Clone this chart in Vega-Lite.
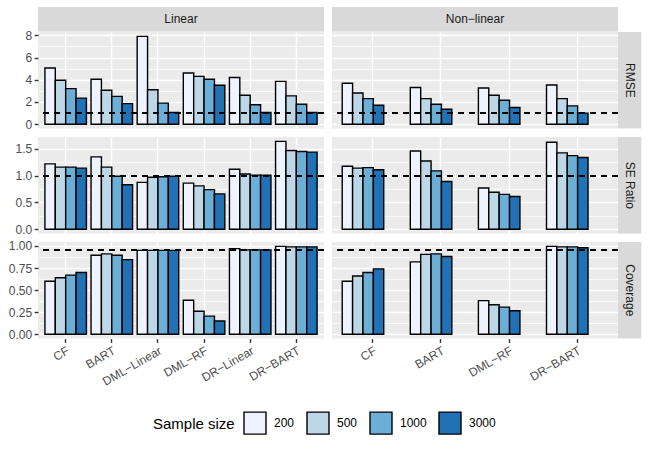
{
"$schema": "https://vega.github.io/schema/vega-lite/v6.json",
"padding": {"left": 8, "top": 7, "right": 5, "bottom": 5},
"datasets": {
"d": [
{"setting":"Linear","metric":"RMSE","method":"CF","n":"200","value":5.05},
{"setting":"Linear","metric":"RMSE","method":"CF","n":"500","value":3.95},
{"setting":"Linear","metric":"RMSE","method":"CF","n":"1000","value":3.2},
{"setting":"Linear","metric":"RMSE","method":"CF","n":"3000","value":2.35},
{"setting":"Linear","metric":"RMSE","method":"BART","n":"200","value":4.05},
{"setting":"Linear","metric":"RMSE","method":"BART","n":"500","value":3.05},
{"setting":"Linear","metric":"RMSE","method":"BART","n":"1000","value":2.5},
{"setting":"Linear","metric":"RMSE","method":"BART","n":"3000","value":1.85},
{"setting":"Linear","metric":"RMSE","method":"DML−Linear","n":"200","value":7.9},
{"setting":"Linear","metric":"RMSE","method":"DML−Linear","n":"500","value":3.1},
{"setting":"Linear","metric":"RMSE","method":"DML−Linear","n":"1000","value":1.9},
{"setting":"Linear","metric":"RMSE","method":"DML−Linear","n":"3000","value":1.05},
{"setting":"Linear","metric":"RMSE","method":"DML−RF","n":"200","value":4.6},
{"setting":"Linear","metric":"RMSE","method":"DML−RF","n":"500","value":4.3},
{"setting":"Linear","metric":"RMSE","method":"DML−RF","n":"1000","value":4.05},
{"setting":"Linear","metric":"RMSE","method":"DML−RF","n":"3000","value":3.5},
{"setting":"Linear","metric":"RMSE","method":"DR−Linear","n":"200","value":4.2},
{"setting":"Linear","metric":"RMSE","method":"DR−Linear","n":"500","value":2.6},
{"setting":"Linear","metric":"RMSE","method":"DR−Linear","n":"1000","value":1.75},
{"setting":"Linear","metric":"RMSE","method":"DR−Linear","n":"3000","value":1.05},
{"setting":"Linear","metric":"RMSE","method":"DR−BART","n":"200","value":3.85},
{"setting":"Linear","metric":"RMSE","method":"DR−BART","n":"500","value":2.55},
{"setting":"Linear","metric":"RMSE","method":"DR−BART","n":"1000","value":1.8},
{"setting":"Linear","metric":"RMSE","method":"DR−BART","n":"3000","value":1.05},
{"setting":"Linear","metric":"SE Ratio","method":"CF","n":"200","value":1.22},
{"setting":"Linear","metric":"SE Ratio","method":"CF","n":"500","value":1.16},
{"setting":"Linear","metric":"SE Ratio","method":"CF","n":"1000","value":1.16},
{"setting":"Linear","metric":"SE Ratio","method":"CF","n":"3000","value":1.14},
{"setting":"Linear","metric":"SE Ratio","method":"BART","n":"200","value":1.35},
{"setting":"Linear","metric":"SE Ratio","method":"BART","n":"500","value":1.16},
{"setting":"Linear","metric":"SE Ratio","method":"BART","n":"1000","value":0.99},
{"setting":"Linear","metric":"SE Ratio","method":"BART","n":"3000","value":0.83},
{"setting":"Linear","metric":"SE Ratio","method":"DML−Linear","n":"200","value":0.875},
{"setting":"Linear","metric":"SE Ratio","method":"DML−Linear","n":"500","value":0.97},
{"setting":"Linear","metric":"SE Ratio","method":"DML−Linear","n":"1000","value":0.98},
{"setting":"Linear","metric":"SE Ratio","method":"DML−Linear","n":"3000","value":0.99},
{"setting":"Linear","metric":"SE Ratio","method":"DML−RF","n":"200","value":0.86},
{"setting":"Linear","metric":"SE Ratio","method":"DML−RF","n":"500","value":0.81},
{"setting":"Linear","metric":"SE Ratio","method":"DML−RF","n":"1000","value":0.74},
{"setting":"Linear","metric":"SE Ratio","method":"DML−RF","n":"3000","value":0.66},
{"setting":"Linear","metric":"SE Ratio","method":"DR−Linear","n":"200","value":1.12},
{"setting":"Linear","metric":"SE Ratio","method":"DR−Linear","n":"500","value":1.03},
{"setting":"Linear","metric":"SE Ratio","method":"DR−Linear","n":"1000","value":1.01},
{"setting":"Linear","metric":"SE Ratio","method":"DR−Linear","n":"3000","value":1.01},
{"setting":"Linear","metric":"SE Ratio","method":"DR−BART","n":"200","value":1.64},
{"setting":"Linear","metric":"SE Ratio","method":"DR−BART","n":"500","value":1.47},
{"setting":"Linear","metric":"SE Ratio","method":"DR−BART","n":"1000","value":1.45},
{"setting":"Linear","metric":"SE Ratio","method":"DR−BART","n":"3000","value":1.44},
{"setting":"Linear","metric":"Coverage","method":"CF","n":"200","value":0.6},
{"setting":"Linear","metric":"Coverage","method":"CF","n":"500","value":0.64},
{"setting":"Linear","metric":"Coverage","method":"CF","n":"1000","value":0.67},
{"setting":"Linear","metric":"Coverage","method":"CF","n":"3000","value":0.7},
{"setting":"Linear","metric":"Coverage","method":"BART","n":"200","value":0.895},
{"setting":"Linear","metric":"Coverage","method":"BART","n":"500","value":0.91},
{"setting":"Linear","metric":"Coverage","method":"BART","n":"1000","value":0.895},
{"setting":"Linear","metric":"Coverage","method":"BART","n":"3000","value":0.845},
{"setting":"Linear","metric":"Coverage","method":"DML−Linear","n":"200","value":0.95},
{"setting":"Linear","metric":"Coverage","method":"DML−Linear","n":"500","value":0.95},
{"setting":"Linear","metric":"Coverage","method":"DML−Linear","n":"1000","value":0.95},
{"setting":"Linear","metric":"Coverage","method":"DML−Linear","n":"3000","value":0.95},
{"setting":"Linear","metric":"Coverage","method":"DML−RF","n":"200","value":0.385},
{"setting":"Linear","metric":"Coverage","method":"DML−RF","n":"500","value":0.26},
{"setting":"Linear","metric":"Coverage","method":"DML−RF","n":"1000","value":0.205},
{"setting":"Linear","metric":"Coverage","method":"DML−RF","n":"3000","value":0.15},
{"setting":"Linear","metric":"Coverage","method":"DR−Linear","n":"200","value":0.97},
{"setting":"Linear","metric":"Coverage","method":"DR−Linear","n":"500","value":0.955},
{"setting":"Linear","metric":"Coverage","method":"DR−Linear","n":"1000","value":0.955},
{"setting":"Linear","metric":"Coverage","method":"DR−Linear","n":"3000","value":0.955},
{"setting":"Linear","metric":"Coverage","method":"DR−BART","n":"200","value":0.995},
{"setting":"Linear","metric":"Coverage","method":"DR−BART","n":"500","value":0.99},
{"setting":"Linear","metric":"Coverage","method":"DR−BART","n":"1000","value":0.99},
{"setting":"Linear","metric":"Coverage","method":"DR−BART","n":"3000","value":0.99},
{"setting":"Non−linear","metric":"RMSE","method":"CF","n":"200","value":3.68},
{"setting":"Non−linear","metric":"RMSE","method":"CF","n":"500","value":2.81},
{"setting":"Non−linear","metric":"RMSE","method":"CF","n":"1000","value":2.3},
{"setting":"Non−linear","metric":"RMSE","method":"CF","n":"3000","value":1.7},
{"setting":"Non−linear","metric":"RMSE","method":"BART","n":"200","value":3.3},
{"setting":"Non−linear","metric":"RMSE","method":"BART","n":"500","value":2.3},
{"setting":"Non−linear","metric":"RMSE","method":"BART","n":"1000","value":1.8},
{"setting":"Non−linear","metric":"RMSE","method":"BART","n":"3000","value":1.35},
{"setting":"Non−linear","metric":"RMSE","method":"DML−RF","n":"200","value":3.26},
{"setting":"Non−linear","metric":"RMSE","method":"DML−RF","n":"500","value":2.6},
{"setting":"Non−linear","metric":"RMSE","method":"DML−RF","n":"1000","value":2.15},
{"setting":"Non−linear","metric":"RMSE","method":"DML−RF","n":"3000","value":1.5},
{"setting":"Non−linear","metric":"RMSE","method":"DR−BART","n":"200","value":3.53},
{"setting":"Non−linear","metric":"RMSE","method":"DR−BART","n":"500","value":2.3},
{"setting":"Non−linear","metric":"RMSE","method":"DR−BART","n":"1000","value":1.65},
{"setting":"Non−linear","metric":"RMSE","method":"DR−BART","n":"3000","value":1.0},
{"setting":"Non−linear","metric":"SE Ratio","method":"CF","n":"200","value":1.175},
{"setting":"Non−linear","metric":"SE Ratio","method":"CF","n":"500","value":1.14},
{"setting":"Non−linear","metric":"SE Ratio","method":"CF","n":"1000","value":1.15},
{"setting":"Non−linear","metric":"SE Ratio","method":"CF","n":"3000","value":1.11},
{"setting":"Non−linear","metric":"SE Ratio","method":"BART","n":"200","value":1.46},
{"setting":"Non−linear","metric":"SE Ratio","method":"BART","n":"500","value":1.275},
{"setting":"Non−linear","metric":"SE Ratio","method":"BART","n":"1000","value":1.09},
{"setting":"Non−linear","metric":"SE Ratio","method":"BART","n":"3000","value":0.89},
{"setting":"Non−linear","metric":"SE Ratio","method":"DML−RF","n":"200","value":0.77},
{"setting":"Non−linear","metric":"SE Ratio","method":"DML−RF","n":"500","value":0.69},
{"setting":"Non−linear","metric":"SE Ratio","method":"DML−RF","n":"1000","value":0.65},
{"setting":"Non−linear","metric":"SE Ratio","method":"DML−RF","n":"3000","value":0.61},
{"setting":"Non−linear","metric":"SE Ratio","method":"DR−BART","n":"200","value":1.625},
{"setting":"Non−linear","metric":"SE Ratio","method":"DR−BART","n":"500","value":1.425},
{"setting":"Non−linear","metric":"SE Ratio","method":"DR−BART","n":"1000","value":1.375},
{"setting":"Non−linear","metric":"SE Ratio","method":"DR−BART","n":"3000","value":1.34},
{"setting":"Non−linear","metric":"Coverage","method":"CF","n":"200","value":0.6},
{"setting":"Non−linear","metric":"Coverage","method":"CF","n":"500","value":0.66},
{"setting":"Non−linear","metric":"Coverage","method":"CF","n":"1000","value":0.7},
{"setting":"Non−linear","metric":"Coverage","method":"CF","n":"3000","value":0.74},
{"setting":"Non−linear","metric":"Coverage","method":"BART","n":"200","value":0.82},
{"setting":"Non−linear","metric":"Coverage","method":"BART","n":"500","value":0.905},
{"setting":"Non−linear","metric":"Coverage","method":"BART","n":"1000","value":0.91},
{"setting":"Non−linear","metric":"Coverage","method":"BART","n":"3000","value":0.88},
{"setting":"Non−linear","metric":"Coverage","method":"DML−RF","n":"200","value":0.38},
{"setting":"Non−linear","metric":"Coverage","method":"DML−RF","n":"500","value":0.333},
{"setting":"Non−linear","metric":"Coverage","method":"DML−RF","n":"1000","value":0.307},
{"setting":"Non−linear","metric":"Coverage","method":"DML−RF","n":"3000","value":0.265},
{"setting":"Non−linear","metric":"Coverage","method":"DR−BART","n":"200","value":0.995},
{"setting":"Non−linear","metric":"Coverage","method":"DR−BART","n":"500","value":0.99},
{"setting":"Non−linear","metric":"Coverage","method":"DR−BART","n":"1000","value":0.99},
{"setting":"Non−linear","metric":"Coverage","method":"DR−BART","n":"3000","value":0.98}
]
},
"bounds": "flush",
"spacing": 0,
"columns": 4,
"concat": [
  {"width": 286, "height": 24.4, "view": {"fill": "#D9D9D9", "stroke": null}, "data": {"values": [{"label": "Linear"}]}, "mark": {"type": "text", "fontSize": 12, "color": "#1A1A1A"}, "encoding": {"text": {"field": "label"}}},
  {"width": 7.5, "height": 24.4, "view": {"fill": null, "stroke": null}, "data": {"values": [{}]}, "mark": "text", "encoding": {"text": {"value": ""}}},
  {"width": 286, "height": 24.4, "view": {"fill": "#D9D9D9", "stroke": null}, "data": {"values": [{"label": "Non−linear"}]}, "mark": {"type": "text", "fontSize": 12, "color": "#1A1A1A"}, "encoding": {"text": {"field": "label"}}},
  {"width": 23.3, "height": 24.4, "view": {"fill": null, "stroke": null}, "data": {"values": [{}]}, "mark": "text", "encoding": {"text": {"value": ""}}},

  {"width": 286, "height": 96.6, "data": {"name": "d"},
   "transform": [{"filter": "datum.setting == 'Linear' && datum.metric == 'RMSE'"}],
   "resolve": {"axis": {"y": "independent"}},
   "layer": [
    {"mark": {"type": "bar", "stroke": "black", "strokeWidth": 1.4},
     "encoding": {
      "x": {"field": "method", "type": "nominal", "sort": ["CF","BART","DML−Linear","DML−RF","DR−Linear","DR−BART"], "scale": {"paddingInner": 0.1, "paddingOuter": 0.15}, "axis": {"labels": false, "ticks": false, "grid": true, "bandPosition": 0.5, "title": null}},
      "xOffset": {"field": "n", "type": "nominal", "sort": ["200","500","1000","3000"], "scale": {"paddingInner": 0, "paddingOuter": 0}},
      "y": {"field": "value", "type": "quantitative", "scale": {"domain": [-0.395, 8.295], "nice": false, "zero": false}, "axis": {"values": [0,2,4,6,8], "grid": true, "orient": "left", "title": null}},
      "y2": {"datum": 0},
      "color": {"field": "n", "type": "nominal", "sort": ["200","500","1000","3000"], "scale": {"domain": ["200","500","1000","3000"], "range": ["#EFF3FF","#BDD7E7","#6BAED6","#2171B5"]}, "title": "Sample size"}
     }},
    {"mark": {"type": "rule", "color": "black", "strokeWidth": 1.4, "strokeDash": [5.5, 5.5]},
     "encoding": {"y": {"datum": 1, "type": "quantitative", "scale": {"domain": [-0.395, 8.295], "nice": false, "zero": false}, "axis": {"values": [1,3,5,7], "grid": true, "gridWidth": 0.7, "labels": false, "ticks": false, "orient": "left", "minExtent": 0, "maxExtent": 0, "title": null}}}}
   ]},
  {"width": 7.5, "height": 96.6, "view": {"fill": null, "stroke": null}, "data": {"values": [{}]}, "mark": "text", "encoding": {"text": {"value": ""}}},
  {"width": 286, "height": 96.6, "data": {"name": "d"},
   "transform": [{"filter": "datum.setting == 'Non−linear' && datum.metric == 'RMSE'"}],
   "resolve": {"axis": {"y": "independent"}},
   "layer": [
    {"mark": {"type": "bar", "stroke": "black", "strokeWidth": 1.4},
     "encoding": {
      "x": {"field": "method", "type": "nominal", "sort": ["CF","BART","DML−RF","DR−BART"], "scale": {"paddingInner": 0.1, "paddingOuter": 0.15}, "axis": {"labels": false, "ticks": false, "grid": true, "bandPosition": 0.5, "title": null}},
      "xOffset": {"field": "n", "type": "nominal", "sort": ["200","500","1000","3000"], "scale": {"paddingInner": 0, "paddingOuter": 0}},
      "y": {"field": "value", "type": "quantitative", "scale": {"domain": [-0.395, 8.295], "nice": false, "zero": false}, "axis": {"values": [0,2,4,6,8], "grid": true, "labels": false, "ticks": false, "orient": "left", "minExtent": 0, "maxExtent": 0, "title": null}},
      "y2": {"datum": 0},
      "color": {"field": "n", "type": "nominal", "sort": ["200","500","1000","3000"], "scale": {"domain": ["200","500","1000","3000"], "range": ["#EFF3FF","#BDD7E7","#6BAED6","#2171B5"]}, "title": "Sample size"}
     }},
    {"mark": {"type": "rule", "color": "black", "strokeWidth": 1.4, "strokeDash": [5.5, 5.5]},
     "encoding": {"y": {"datum": 1, "type": "quantitative", "scale": {"domain": [-0.395, 8.295], "nice": false, "zero": false}, "axis": {"values": [1,3,5,7], "grid": true, "gridWidth": 0.7, "labels": false, "ticks": false, "orient": "left", "minExtent": 0, "maxExtent": 0, "title": null}}}}
   ]},
  {"width": 23.3, "height": 96.6, "view": {"fill": "#D9D9D9", "stroke": null}, "data": {"values": [{"label": "RMSE"}]}, "mark": {"type": "text", "fontSize": 12, "color": "#1A1A1A", "angle": 90}, "encoding": {"text": {"field": "label"}}},

  {"width": 286, "height": 7.3, "view": {"fill": null, "stroke": null}, "data": {"values": [{}]}, "mark": "text", "encoding": {"text": {"value": ""}}},
  {"width": 7.5, "height": 7.3, "view": {"fill": null, "stroke": null}, "data": {"values": [{}]}, "mark": "text", "encoding": {"text": {"value": ""}}},
  {"width": 286, "height": 7.3, "view": {"fill": null, "stroke": null}, "data": {"values": [{}]}, "mark": "text", "encoding": {"text": {"value": ""}}},
  {"width": 23.3, "height": 7.3, "view": {"fill": null, "stroke": null}, "data": {"values": [{}]}, "mark": "text", "encoding": {"text": {"value": ""}}},

  {"width": 286, "height": 96.6, "data": {"name": "d"},
   "transform": [{"filter": "datum.setting == 'Linear' && datum.metric == 'SE Ratio'"}],
   "resolve": {"axis": {"y": "independent"}},
   "layer": [
    {"mark": {"type": "bar", "stroke": "black", "strokeWidth": 1.4},
     "encoding": {
      "x": {"field": "method", "type": "nominal", "sort": ["CF","BART","DML−Linear","DML−RF","DR−Linear","DR−BART"], "scale": {"paddingInner": 0.1, "paddingOuter": 0.15}, "axis": {"labels": false, "ticks": false, "grid": true, "bandPosition": 0.5, "title": null}},
      "xOffset": {"field": "n", "type": "nominal", "sort": ["200","500","1000","3000"], "scale": {"paddingInner": 0, "paddingOuter": 0}},
      "y": {"field": "value", "type": "quantitative", "scale": {"domain": [-0.082, 1.722], "nice": false, "zero": false}, "axis": {"values": [0,0.5,1,1.5], "format": ".1f", "grid": true, "orient": "left", "title": null}},
      "y2": {"datum": 0},
      "color": {"field": "n", "type": "nominal", "sort": ["200","500","1000","3000"], "scale": {"domain": ["200","500","1000","3000"], "range": ["#EFF3FF","#BDD7E7","#6BAED6","#2171B5"]}, "title": "Sample size"}
     }},
    {"mark": {"type": "rule", "color": "black", "strokeWidth": 1.4, "strokeDash": [5.5, 5.5]},
     "encoding": {"y": {"datum": 1, "type": "quantitative", "scale": {"domain": [-0.082, 1.722], "nice": false, "zero": false}, "axis": {"values": [0.25,0.75,1.25], "grid": true, "gridWidth": 0.7, "labels": false, "ticks": false, "orient": "left", "minExtent": 0, "maxExtent": 0, "title": null}}}}
   ]},
  {"width": 7.5, "height": 96.6, "view": {"fill": null, "stroke": null}, "data": {"values": [{}]}, "mark": "text", "encoding": {"text": {"value": ""}}},
  {"width": 286, "height": 96.6, "data": {"name": "d"},
   "transform": [{"filter": "datum.setting == 'Non−linear' && datum.metric == 'SE Ratio'"}],
   "resolve": {"axis": {"y": "independent"}},
   "layer": [
    {"mark": {"type": "bar", "stroke": "black", "strokeWidth": 1.4},
     "encoding": {
      "x": {"field": "method", "type": "nominal", "sort": ["CF","BART","DML−RF","DR−BART"], "scale": {"paddingInner": 0.1, "paddingOuter": 0.15}, "axis": {"labels": false, "ticks": false, "grid": true, "bandPosition": 0.5, "title": null}},
      "xOffset": {"field": "n", "type": "nominal", "sort": ["200","500","1000","3000"], "scale": {"paddingInner": 0, "paddingOuter": 0}},
      "y": {"field": "value", "type": "quantitative", "scale": {"domain": [-0.082, 1.722], "nice": false, "zero": false}, "axis": {"values": [0,0.5,1,1.5], "grid": true, "labels": false, "ticks": false, "orient": "left", "minExtent": 0, "maxExtent": 0, "title": null}},
      "y2": {"datum": 0},
      "color": {"field": "n", "type": "nominal", "sort": ["200","500","1000","3000"], "scale": {"domain": ["200","500","1000","3000"], "range": ["#EFF3FF","#BDD7E7","#6BAED6","#2171B5"]}, "title": "Sample size"}
     }},
    {"mark": {"type": "rule", "color": "black", "strokeWidth": 1.4, "strokeDash": [5.5, 5.5]},
     "encoding": {"y": {"datum": 1, "type": "quantitative", "scale": {"domain": [-0.082, 1.722], "nice": false, "zero": false}, "axis": {"values": [0.25,0.75,1.25], "grid": true, "gridWidth": 0.7, "labels": false, "ticks": false, "orient": "left", "minExtent": 0, "maxExtent": 0, "title": null}}}}
   ]},
  {"width": 23.3, "height": 96.6, "view": {"fill": "#D9D9D9", "stroke": null}, "data": {"values": [{"label": "SE Ratio"}]}, "mark": {"type": "text", "fontSize": 12, "color": "#1A1A1A", "angle": 90}, "encoding": {"text": {"field": "label"}}},

  {"width": 286, "height": 7.3, "view": {"fill": null, "stroke": null}, "data": {"values": [{}]}, "mark": "text", "encoding": {"text": {"value": ""}}},
  {"width": 7.5, "height": 7.3, "view": {"fill": null, "stroke": null}, "data": {"values": [{}]}, "mark": "text", "encoding": {"text": {"value": ""}}},
  {"width": 286, "height": 7.3, "view": {"fill": null, "stroke": null}, "data": {"values": [{}]}, "mark": "text", "encoding": {"text": {"value": ""}}},
  {"width": 23.3, "height": 7.3, "view": {"fill": null, "stroke": null}, "data": {"values": [{}]}, "mark": "text", "encoding": {"text": {"value": ""}}},

  {"width": 286, "height": 96.6, "data": {"name": "d"},
   "transform": [{"filter": "datum.setting == 'Linear' && datum.metric == 'Coverage'"}],
   "resolve": {"axis": {"y": "independent"}},
   "layer": [
    {"mark": {"type": "bar", "stroke": "black", "strokeWidth": 1.4},
     "encoding": {
      "x": {"field": "method", "type": "nominal", "sort": ["CF","BART","DML−Linear","DML−RF","DR−Linear","DR−BART"], "scale": {"paddingInner": 0.1, "paddingOuter": 0.15}, "axis": {"labels": true, "ticks": true, "grid": true, "bandPosition": 0.5, "labelAngle": -30, "labelAlign": "right", "labelBaseline": "top", "labelOverlap": false, "title": null}},
      "xOffset": {"field": "n", "type": "nominal", "sort": ["200","500","1000","3000"], "scale": {"paddingInner": 0, "paddingOuter": 0}},
      "y": {"field": "value", "type": "quantitative", "scale": {"domain": [-0.04975, 1.04475], "nice": false, "zero": false}, "axis": {"values": [0,0.25,0.5,0.75,1], "format": ".2f", "grid": true, "orient": "left", "title": null}},
      "y2": {"datum": 0},
      "color": {"field": "n", "type": "nominal", "sort": ["200","500","1000","3000"], "scale": {"domain": ["200","500","1000","3000"], "range": ["#EFF3FF","#BDD7E7","#6BAED6","#2171B5"]}, "title": "Sample size"}
     }},
    {"mark": {"type": "rule", "color": "black", "strokeWidth": 1.4, "strokeDash": [5.5, 5.5]},
     "encoding": {"y": {"datum": 0.95, "type": "quantitative", "scale": {"domain": [-0.04975, 1.04475], "nice": false, "zero": false}, "axis": {"values": [0.125,0.375,0.625,0.875], "grid": true, "gridWidth": 0.7, "labels": false, "ticks": false, "orient": "left", "minExtent": 0, "maxExtent": 0, "title": null}}}}
   ]},
  {"width": 7.5, "height": 96.6, "view": {"fill": null, "stroke": null}, "data": {"values": [{}]}, "mark": "text", "encoding": {"text": {"value": ""}}},
  {"width": 286, "height": 96.6, "data": {"name": "d"},
   "transform": [{"filter": "datum.setting == 'Non−linear' && datum.metric == 'Coverage'"}],
   "resolve": {"axis": {"y": "independent"}},
   "layer": [
    {"mark": {"type": "bar", "stroke": "black", "strokeWidth": 1.4},
     "encoding": {
      "x": {"field": "method", "type": "nominal", "sort": ["CF","BART","DML−RF","DR−BART"], "scale": {"paddingInner": 0.1, "paddingOuter": 0.15}, "axis": {"labels": true, "ticks": true, "grid": true, "bandPosition": 0.5, "labelAngle": -30, "labelAlign": "right", "labelBaseline": "top", "labelOverlap": false, "title": null}},
      "xOffset": {"field": "n", "type": "nominal", "sort": ["200","500","1000","3000"], "scale": {"paddingInner": 0, "paddingOuter": 0}},
      "y": {"field": "value", "type": "quantitative", "scale": {"domain": [-0.04975, 1.04475], "nice": false, "zero": false}, "axis": {"values": [0,0.25,0.5,0.75,1], "grid": true, "labels": false, "ticks": false, "orient": "left", "minExtent": 0, "maxExtent": 0, "title": null}},
      "y2": {"datum": 0},
      "color": {"field": "n", "type": "nominal", "sort": ["200","500","1000","3000"], "scale": {"domain": ["200","500","1000","3000"], "range": ["#EFF3FF","#BDD7E7","#6BAED6","#2171B5"]}, "title": "Sample size"}
     }},
    {"mark": {"type": "rule", "color": "black", "strokeWidth": 1.4, "strokeDash": [5.5, 5.5]},
     "encoding": {"y": {"datum": 0.95, "type": "quantitative", "scale": {"domain": [-0.04975, 1.04475], "nice": false, "zero": false}, "axis": {"values": [0.125,0.375,0.625,0.875], "grid": true, "gridWidth": 0.7, "labels": false, "ticks": false, "orient": "left", "minExtent": 0, "maxExtent": 0, "title": null}}}}
   ]},
  {"width": 23.3, "height": 96.6, "view": {"fill": "#D9D9D9", "stroke": null}, "data": {"values": [{"label": "Coverage"}]}, "mark": {"type": "text", "fontSize": 12, "color": "#1A1A1A", "angle": 90}, "encoding": {"text": {"field": "label"}}}
],
"config": {
 "font": "Liberation Sans",
 "view": {"fill": "#EBEBEB", "stroke": null},
 "axis": {"domain": false, "labelFont": "Liberation Sans", "labelFontSize": 12, "labelColor": "#4D4D4D", "tickColor": "#333333", "tickSize": 3.8, "tickWidth": 1.4, "labelPadding": 2.5, "gridColor": "#FFFFFF", "gridWidth": 1.4},
 "legend": {"orient": "bottom", "direction": "horizontal", "titleOrient": "left", "titleFont": "Liberation Sans", "titleFontSize": 15, "titleFontWeight": "normal", "titleColor": "black", "titlePadding": 8, "labelFont": "Liberation Sans", "labelFontSize": 12, "labelColor": "black", "labelOffset": 7, "columnPadding": 9, "symbolType": "square", "symbolSize": 484, "symbolStrokeColor": "black", "symbolStrokeWidth": 1.4, "symbolOpacity": 1, "offset": 23, "layout": {"bottom": {"anchor": "middle"}}}
}
}
